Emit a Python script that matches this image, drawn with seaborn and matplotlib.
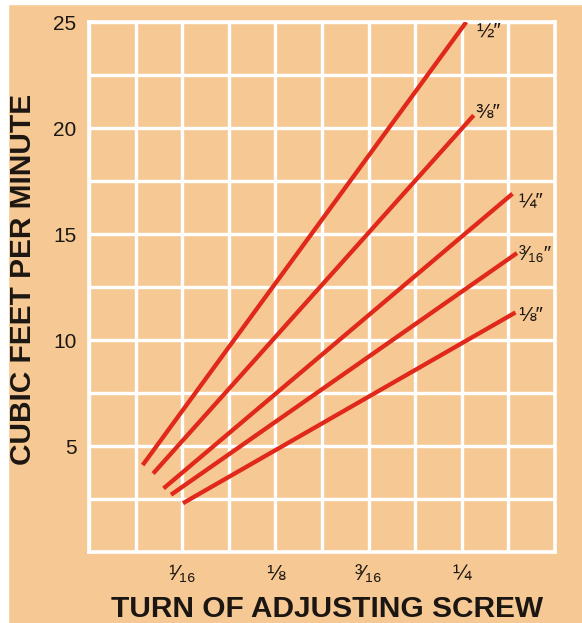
import matplotlib
matplotlib.use('Agg')
import matplotlib.pyplot as plt
from matplotlib.ticker import MultipleLocator
from matplotlib.patches import Rectangle
import seaborn as sns
import pandas as pd

# screw opening sizes (turns -> cubic feet per minute)
sizes = ['½″', '⅜″', '¼″', '³⁄₁₆″', '⅛″']
turn_start = [0.036, 0.043, 0.050, 0.055, 0.063]
turn_end = [0.253, 0.258, 0.284, 0.287, 0.286]
cfm_start = [4.1, 3.7, 3.0, 2.7, 2.3]
cfm_end = [25.0, 20.6, 16.9, 14.1, 11.3]

x_tick_vals = [1 / 16, 1 / 8, 3 / 16, 1 / 4]
x_tick_labels = ['¹⁄₁₆', '⅛', '³⁄₁₆', '¼']
y_tick_vals = [5, 10, 15, 20, 25]

tan = '#f6c994'
red = '#e0281b'
ink = '#1c1612'

df = pd.DataFrame({
    'size': sizes * 2,
    'turn': turn_start + turn_end,
    'cfm': cfm_start + cfm_end,
})

sns.set_theme(style='white', rc={'axes.facecolor': tan, 'figure.facecolor': tan})
plt.rcParams['font.family'] = ['Liberation Sans', 'DejaVu Sans']

fig = plt.figure(figsize=(5.82, 6.23), dpi=100)
ax = fig.add_axes([89 / 582, 1 - 552 / 623, 466 / 582, 530 / 623])

# thin white paper edges on left and top
fig.patches.append(Rectangle((0, 0), 8 / 582, 1, transform=fig.transFigure,
                             color='white', zorder=-1))
fig.patches.append(Rectangle((0, 1 - 4 / 623), 1, 4 / 623, transform=fig.transFigure,
                             color='white', zorder=-1))

sns.lineplot(data=df, x='turn', y='cfm', hue='size', hue_order=sizes,
             palette=[red] * len(sizes), estimator=None, sort=False,
             legend=False, lw=3.1, solid_capstyle='butt', ax=ax, zorder=3)

ax.set_xlim(0, 10 / 32)
ax.set_ylim(0, 25)
ax.set_xticks(x_tick_vals)
ax.set_xticklabels(x_tick_labels, fontsize=16, color=ink)
ax.set_yticks(y_tick_vals)
ax.set_yticklabels([str(v) for v in y_tick_vals], fontsize=15, color=ink)
ax.xaxis.set_minor_locator(MultipleLocator(1 / 32))
ax.yaxis.set_minor_locator(MultipleLocator(2.5))
ax.tick_params(which='both', length=0)
ax.tick_params(axis='y', pad=9)
ax.tick_params(axis='x', pad=9)
ax.grid(which='both', color='white', lw=2.4, zorder=1)
ax.set_axisbelow(True)
for s in ax.spines.values():
    s.set_color('white')
    s.set_linewidth(2.6)

ax.set_xlabel('TURN OF ADJUSTING SCREW', fontsize=21.5, fontweight='bold',
              color=ink, va='center')
ax.xaxis.set_label_coords(0.51, -0.108)
ax.set_ylabel('CUBIC FEET PER MINUTE', fontsize=21.5, fontweight='bold',
              color=ink, va='center')
ax.yaxis.set_label_coords(-0.142, 0.515)

# size labels at the end of each line
offsets = [(7, -7), (1, 2), (4, -5), (1, -1), (2, -2)]
for lab, xe, ye, off in zip(sizes, turn_end, cfm_end, offsets):
    ax.annotate(lab, (xe, ye), xytext=off, textcoords='offset points',
                ha='left', va='center', fontsize=15, color=ink)

fig.savefig('out.png', dpi=100, facecolor=tan)
